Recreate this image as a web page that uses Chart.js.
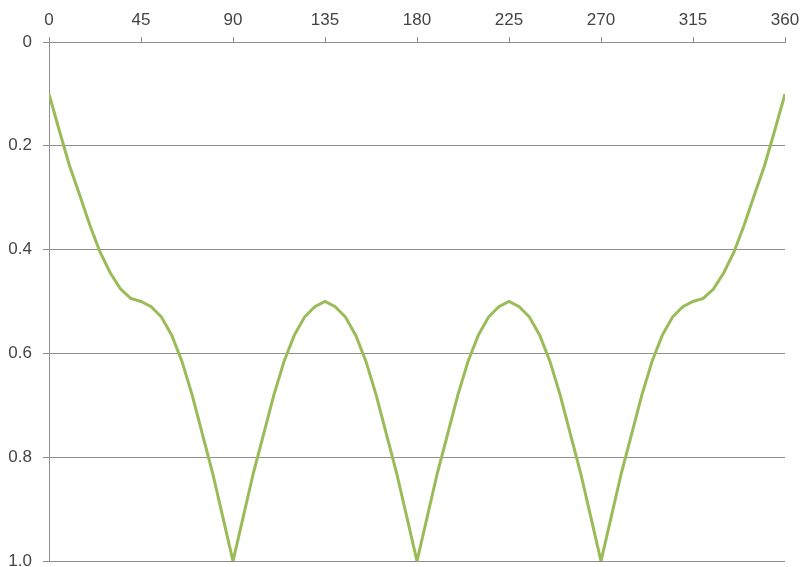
<!DOCTYPE html>
<html lang="en">
  <head>
    <meta charset="utf-8" />
    <title>Angle chart</title>
    <script src="https://cdn.jsdelivr.net/npm/chart.js"></script>
    <style>
      body { margin: 0; background: #fff; }
    </style>
  </head>
  <body>
    <canvas id="myChart" width="802" height="567"></canvas>
    <script>
      // angle in degrees, every 5
      const angles = [
        0, 5, 10, 15, 20, 25, 30, 35, 40, 45, 50, 55, 60, 65, 70, 75, 80, 85, 90,
        95, 100, 105, 110, 115, 120, 125, 130, 135, 140, 145, 150, 155, 160, 165, 170, 175, 180,
        185, 190, 195, 200, 205, 210, 215, 220, 225, 230, 235, 240, 245, 250, 255, 260, 265, 270,
        275, 280, 285, 290, 295, 300, 305, 310, 315, 320, 325, 330, 335, 340, 345, 350, 355, 360,
      ];
      const values = [
        0.10, 0.17, 0.238, 0.295, 0.353, 0.405, 0.445, 0.476, 0.494, 0.50, 0.51, 0.53, 0.565, 0.615, 0.68, 0.755, 0.83, 0.915, 1.0,
        0.915, 0.83, 0.755, 0.68, 0.615, 0.565, 0.53, 0.51, 0.50, 0.51, 0.53, 0.565, 0.615, 0.68, 0.755, 0.83, 0.915, 1.0,
        0.915, 0.83, 0.755, 0.68, 0.615, 0.565, 0.53, 0.51, 0.50, 0.51, 0.53, 0.565, 0.615, 0.68, 0.755, 0.83, 0.915, 1.0,
        0.915, 0.83, 0.755, 0.68, 0.615, 0.565, 0.53, 0.51, 0.50, 0.494, 0.476, 0.445, 0.405, 0.353, 0.295, 0.238, 0.17, 0.10,
      ];
      const xTickLabels = ['0', '45', '90', '135', '180', '225', '270', '315', '360'];
      const yTickLabels = ['0', '0.2', '0.4', '0.6', '0.8', '1.0'];

      const axisGray = '#8e8e8e';
      const textGray = '#444444';

      const points = angles.map((a, i) => ({ x: a, y: values[i] }));

      const config = {
        type: 'line',
        data: {
          datasets: [
            {
              data: points,
              borderColor: '#9bbb59',
              borderWidth: 3,
              pointRadius: 0,
              tension: 0,
              fill: false,
            },
          ],
        },
        options: {
          responsive: false,
          animation: false,
          layout: { padding: { left: 0, right: 17, top: 0, bottom: 6 } },
          plugins: { legend: { display: false }, tooltip: { enabled: false } },
          scales: {
            x: {
              type: 'linear',
              position: 'top',
              min: 0,
              max: 360,
              ticks: {
                stepSize: 45,
                color: textGray,
                padding: 6,
                maxRotation: 0,
                font: { family: 'Liberation Sans', size: 17 },
                callback: (v) => xTickLabels[Math.round(v / 45)],
              },
              grid: { drawOnChartArea: false, drawTicks: true, tickLength: 5, color: axisGray },
              border: { color: axisGray, width: 1 },
              afterFit: (scale) => {
                scale.height = 42;
                scale.paddingLeft = 0;
                scale.paddingRight = 0;
              },
            },
            y: {
              reverse: true,
              min: 0,
              max: 1,
              ticks: {
                stepSize: 0.2,
                color: textGray,
                padding: 11,
                font: { family: 'Liberation Sans', size: 17 },
                // reversed axis, so look up label by value not index
                callback: (v) => yTickLabels[Math.round(v / 0.2)],
              },
              grid: { color: axisGray, tickLength: 6 },
              border: { color: axisGray, width: 1 },
              afterFit: (scale) => {
                scale.width = 49;
                scale.paddingTop = 0;
                scale.paddingBottom = 0;
              },
            },
          },
        },
      };

      var myChart = new Chart(document.getElementById('myChart'), config);
    </script>
  </body>
</html>
